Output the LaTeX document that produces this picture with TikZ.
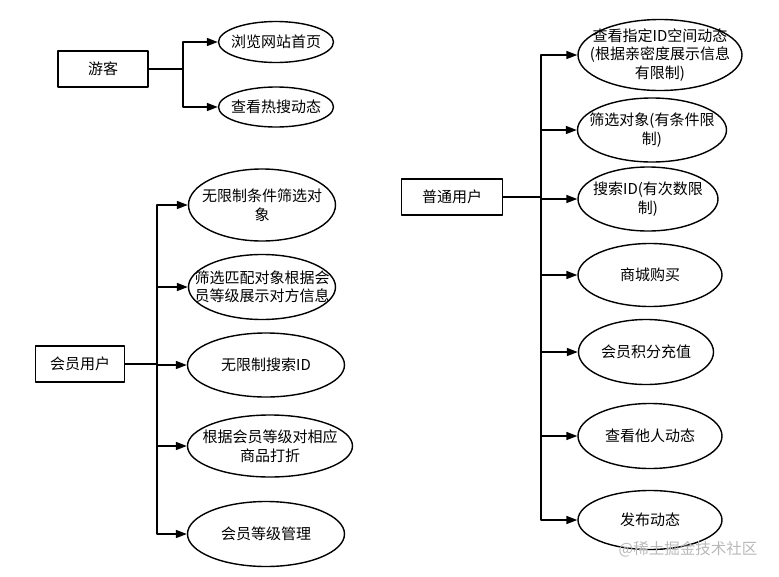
\documentclass[tikz,border=0pt]{standalone}
\usepackage{fontspec}
\setmainfont{Noto Sans CJK SC}
\usetikzlibrary{shapes.geometric,arrows.meta}
\begin{document}
\begin{tikzpicture}[x=1pt, y=-1pt, line join=round, >={Triangle[length=11pt,width=8pt]}, font=\fontsize{15}{18.5}\selectfont]
		\tikzset{role/.style={draw, line width=1.6pt, minimum width=#1, minimum height=36pt, inner sep=0pt},
			usecase/.style={draw, ellipse, line width=1.4pt, inner sep=0pt},
			conn/.style={->, line width=1.6pt}}
		\useasboundingbox (0,0) rectangle (779,576);
		\path (183,69) coordinate (gt)
		(157,364) coordinate (mt)
		(541,197) coordinate (nt)
		;
		\node[role=90pt] (guest) at (103,69) {游客};
		\node[role=89pt] (member) at (80,364) {会员用户};
		\node[role=101pt] (normal) at (452,197) {普通用户};
		\foreach \n/\x/\y/\w/\h/\t in {
			g1/276/42/115/41/{浏览网站首页},
			g2/276/107/115/40/{查看热搜动态},
			m1/262/205/147/72/{无限制条件筛选对\\象},
			m2/262/287/147/65/{筛选匹配对象根据会\\员等级展示对方信息},
			m3/266/365/157/64/{无限制搜索ID},
			m4/270/446/165/62/{根据会员等级对相应\\商品打折},
			m5/266/534/157/65/{会员等级管理},
			n1/660/55/164/71/{查看指定ID空间动态\\(根据亲密度展示信息\\有限制)},
			n2/652/130/149/64/{筛选对象(有条件限\\制)},
			n3/648/199/140/64/{搜索ID(有次数限\\制)},
			n4/650/275/144/63/{商城购买},
			n5/646/352/135/65/{会员积分充值},
			n6/650/436/144/65/{查看他人动态},
			n7/650/520/144/59/{发布动态}}
		{\node[usecase, minimum width=\w pt, minimum height=\h pt] (\n) at (\x,\y) {};
		\node[align=center] (\n-t) at (\n) {\t};}
		\foreach \c in {g1,g2}
		\draw[conn] (guest.east) -- (gt) |- (\c.west);
		\foreach \c in {m1,m2,m3,m4,m5}
		\draw[conn] (member.east) -- (mt) |- (\c.west);
		\foreach \c in {n1,n2,n3,n4,n5,n6,n7}
		\draw[conn] (normal.east) -- (nt) |- (\c.west);
		\node[text=gray!55, font=\fontsize{15.5}{18}\selectfont] (mark) at (688,549) {@稀土掘金技术社区};
\end{tikzpicture}
\end{document}
